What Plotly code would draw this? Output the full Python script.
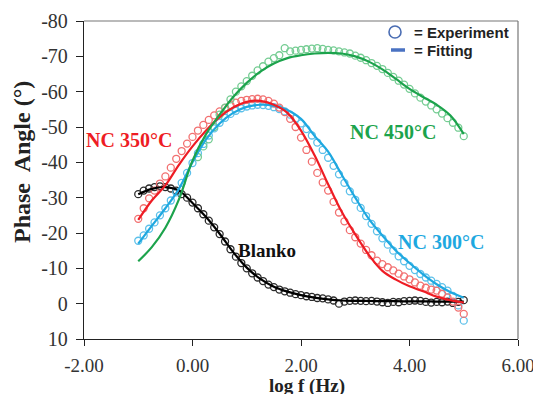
import plotly.graph_objects as go

# ---------------- data ----------------
# experiment points (log f grid)
x_exp = [-1.0, -0.9, -0.8, -0.7, -0.6, -0.5, -0.4, -0.3, -0.2, -0.1,
         0.0, 0.1, 0.2, 0.3, 0.4, 0.5, 0.6, 0.7, 0.8, 0.9,
         1.0, 1.1, 1.2, 1.3, 1.4, 1.5, 1.6, 1.7, 1.8, 1.9,
         2.0, 2.1, 2.2, 2.3, 2.4, 2.5, 2.6, 2.7, 2.8, 2.9,
         3.0, 3.1, 3.2, 3.3, 3.4, 3.5, 3.6, 3.7, 3.8, 3.9,
         4.0, 4.1, 4.2, 4.3, 4.4, 4.5, 4.6, 4.7, 4.8, 4.9, 5.0]

blanko_exp = [-31.0, -32.0, -32.6, -33.0, -33.2, -33.0, -32.6, -32.0, -31.0, -30.0,
              -28.6, -27.0, -25.3, -23.5, -21.6, -19.7, -17.6, -15.4, -13.3, -11.5,
              -10.0, -8.6, -7.4, -6.4, -5.4, -4.7, -4.0, -3.5, -3.1, -2.7,
              -2.4, -2.1, -1.9, -1.6, -1.5, -1.2, -0.9, 0.0, -0.6, -0.8,
              -0.9, -0.8, -0.7, -0.8, -0.6, -0.4, -0.2, -0.5, -0.4, -0.7,
              -0.8, -0.9, -0.8, -0.5, -0.3, -0.5, -0.4, -0.6, -0.2, -0.5, -1.0]

nc350_exp = [-24.0, -27.0, -29.8, -32.0, -34.0, -36.0, -38.5, -41.0, -43.2, -45.3,
             -47.2, -49.0, -50.6, -52.0, -53.3, -54.4, -55.4, -56.2, -56.9, -57.4,
             -57.7, -57.9, -58.0, -57.8, -57.4, -56.6, -55.5, -54.2, -52.3, -50.0,
             -47.0, -43.5, -40.2, -37.0, -34.3, -32.0, -28.8, -25.8, -23.3, -20.8,
             -18.8, -17.0, -15.2, -13.7, -12.2, -11.2, -10.3, -9.4, -8.5, -7.7,
             -6.9, -6.0, -5.1, -4.5, -4.0, -3.7, -2.8, -1.8, -0.6, 1.1, 2.9]

nc300_exp = [-17.8, -19.3, -21.2, -23.0, -25.0, -27.0, -29.2, -31.5, -34.2, -37.0,
             -39.8, -42.6, -45.2, -47.6, -49.6, -51.2, -52.6, -53.7, -54.6, -55.3,
             -55.8, -56.1, -56.3, -56.2, -56.0, -55.6, -55.1, -54.4, -53.5, -52.4,
             -51.0, -49.4, -47.6, -45.6, -43.5, -41.3, -39.0, -36.6, -34.2, -31.8,
             -29.4, -27.1, -24.8, -22.6, -20.5, -18.5, -16.7, -15.0, -13.4, -12.0,
             -10.7, -9.5, -8.4, -7.4, -6.5, -5.6, -4.7, -3.7, -2.2, 0.5, 4.8]

x_exp_450 = [0.1, 0.2, 0.3, 0.4, 0.5, 0.6, 0.7, 0.8, 0.9,
             1.0, 1.1, 1.2, 1.3, 1.4, 1.5, 1.6, 1.7, 1.8, 1.9,
             2.0, 2.1, 2.2, 2.3, 2.4, 2.5, 2.6, 2.7, 2.8, 2.9,
             3.0, 3.1, 3.2, 3.3, 3.4, 3.5, 3.6, 3.7, 3.8, 3.9,
             4.0, 4.1, 4.2, 4.3, 4.4, 4.5, 4.6, 4.7, 4.8, 4.9, 5.0]
nc450_exp = [-41.5, -44.5, -46.5, -50.0, -53.5, -55.5, -57.8, -60.0, -61.5,
             -63.0, -64.5, -66.0, -67.2, -68.5, -69.5, -70.3, -72.3, -71.4, -71.6,
             -71.8, -72.0, -72.2, -72.3, -72.1, -71.8, -71.7, -71.4, -71.1, -70.8,
             -70.2, -69.6, -68.9, -68.1, -67.3, -66.4, -65.3, -64.2, -63.1, -62.0,
             -60.8, -59.5, -58.3, -57.2, -56.1, -55.0, -53.8, -52.5, -51.2, -49.8, -47.4]

# fitting curves
x_fit = [-1.0, -0.75, -0.5, -0.25, 0.0, 0.25, 0.5, 0.75, 1.0, 1.25, 1.5, 1.75,
         2.0, 2.25, 2.5, 2.75, 3.0, 3.25, 3.5, 3.75, 4.0, 4.25, 4.5, 4.75, 5.0]
blanko_fit = [-31.0, -32.5, -33.0, -32.0, -28.5, -24.5, -19.8, -14.6, -10.2, -7.0, -4.8, -3.4,
              -2.4, -1.7, -1.2, -0.9, -0.8, -0.75, -0.7, -0.7, -0.65, -0.65, -0.6, -0.6, -0.6]
nc350_fit = [-23.7, -29.2, -33.5, -39.3, -44.5, -49.0, -52.8, -55.5, -57.1, -57.4, -56.3, -54.0,
             -49.0, -42.0, -33.8, -26.0, -19.6, -13.8, -9.3, -6.8, -4.9, -3.5, -2.0, -1.0, -0.3]
nc300_fit = [-17.0, -22.0, -27.0, -32.5, -40.0, -46.5, -51.0, -54.0, -55.7, -56.3, -56.0, -54.8,
             -52.3, -47.5, -43.0, -36.5, -30.0, -24.0, -19.3, -15.0, -11.5, -8.3, -5.5, -3.3, -1.7]
nc450_fit = [-12.0, -16.0, -21.5, -29.5, -40.5, -48.0, -53.5, -58.5, -62.5, -65.7, -68.0, -69.5,
             -70.3, -70.8, -71.0, -70.8, -70.0, -68.5, -66.3, -63.6, -60.8, -58.5, -56.3, -53.3, -48.0]

x_ticks = [-2, 0, 2, 4, 6]
x_ticktext = ["-2.00", "0.00", "2.00", "4.00", "6.00"]
y_ticks = [-80, -70, -60, -50, -40, -30, -20, -10, 0, 10]
y_ticktext = ["-80", "-70", "-60", "-50", "-40", "-30", "-20", "-10", "0", "10"]

series = [
    ("Blanko", x_exp, blanko_exp, blanko_fit, "#2a2a2a", "#000000"),
    ("NC 300", x_exp, nc300_exp, nc300_fit, "#5cc0ea", "#1ea8e0"),
    ("NC 350", x_exp, nc350_exp, nc350_fit, "#f27070", "#ee1c24"),
    ("NC 450", x_exp_450, nc450_exp, nc450_fit, "#74cc92", "#1ca34c"),
]

fig = go.Figure()
for name, xe, ye, yf, mcol, lcol in series:
    fig.add_trace(go.Scatter(x=xe, y=ye, mode="markers", name=name + " exp",
                             marker=dict(symbol="circle-open", size=7,
                                         line=dict(color=mcol, width=1.3), color=mcol),
                             showlegend=False, hoverinfo="skip"))
for name, xe, ye, yf, mcol, lcol in series:
    fig.add_trace(go.Scatter(x=x_fit, y=yf, mode="lines", name=name + " fit",
                             line=dict(color=lcol, width=2.2, shape="spline", smoothing=1.0),
                             showlegend=False, hoverinfo="skip"))

serif = "Liberation Serif, Times New Roman, serif"
sans = "Liberation Sans, Arial, sans-serif"

fig.update_xaxes(range=[-2, 6], tickvals=x_ticks, ticktext=x_ticktext, automargin=False,
                 showgrid=False, zeroline=False, showline=True, linecolor="#222",
                 linewidth=1.3, ticks="outside", ticklen=6, tickcolor="#222",
                 ticklabelstandoff=3,
                 tickfont=dict(family=serif, size=19, color="#333"))
fig.update_yaxes(range=[10, -80], tickvals=y_ticks, ticktext=y_ticktext, automargin=False,
                 showgrid=False, zeroline=False, showline=True, linecolor="#222",
                 linewidth=1.3, ticks="outside", ticklen=7, tickcolor="#222",
                 ticklabelstandoff=4,
                 tickfont=dict(family=serif, size=20, color="#333"))

# frame top & right
fig.add_shape(type="line", xref="paper", yref="paper", x0=0, x1=1, y0=1, y1=1,
              line=dict(color="#777", width=1.2))
fig.add_shape(type="line", xref="paper", yref="paper", x0=1, x1=1, y0=0, y1=1,
              line=dict(color="#777", width=1.2))

# custom legend (page pixel -> paper coordinates of the plot area)
W, H, L, B = 434.0, 318.0, 84.0, 339.0
def px(xp):
    return (xp - L) / W
def py(yp):
    return (B - yp) / H
fig.add_shape(type="circle", xref="paper", yref="paper",
              x0=px(389), x1=px(401), y0=py(38), y1=py(26),
              line=dict(color="#4a6db3", width=1.6))
fig.add_shape(type="line", xref="paper", yref="paper",
              x0=px(391), x1=px(405), y0=py(50), y1=py(50),
              line=dict(color="#4a72c2", width=3.5))
fig.add_annotation(xref="paper", yref="paper", x=px(412), y=py(32), xanchor="left",
                   yanchor="middle", showarrow=False, text="= Experiment",
                   font=dict(family=sans, size=15, color="#222", weight="bold"))
fig.add_annotation(xref="paper", yref="paper", x=px(412), y=py(51), xanchor="left",
                   yanchor="middle", showarrow=False, text="= Fitting",
                   font=dict(family=sans, size=15, color="#222", weight="bold"))

# series labels
labels = [
    ("NC 350°C", -2.0, -46.3, "#ee1c24", 20),
    ("NC 450°C", 2.87, -48.6, "#1ca34c", 20),
    ("NC 300°C", 3.76, -17.4, "#1ea8e0", 20),
    ("Blanko", 0.80, -15.1, "#111111", 19),
]
for t, xl, yl, c, s in labels:
    fig.add_annotation(x=xl, y=yl, xanchor="left", yanchor="middle", showarrow=False,
                       text=t, font=dict(family=serif, size=s, color=c, weight="bold"))

# axis titles
fig.add_annotation(xref="paper", yref="paper", x=px(307), y=py(386), xanchor="center",
                   yanchor="middle", showarrow=False, text="log f (Hz)",
                   font=dict(family=serif, size=19, color="#222", weight="bold"))
fig.add_annotation(xref="paper", yref="paper", x=px(22), y=py(162), xanchor="center",
                   yanchor="middle", showarrow=False, text="Phase  Angle (°)", textangle=-90,
                   font=dict(family=serif, size=24, color="#222", weight="bold"))

# the page body has an 8px margin, so the figure is 8px smaller and margins shifted
fig.update_layout(width=533, height=386, margin=dict(l=76, r=23, t=13, b=55),
                  paper_bgcolor="white", plot_bgcolor="white", showlegend=False)

fig.write_html("out.html")
